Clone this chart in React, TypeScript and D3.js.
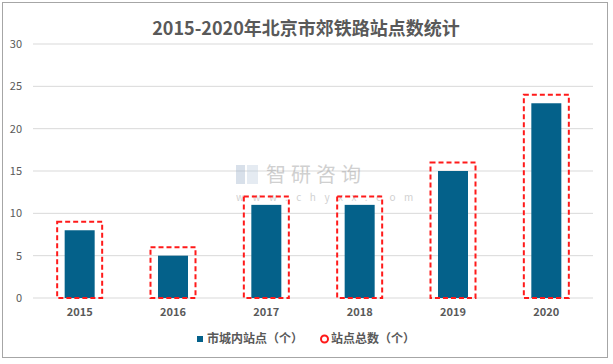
import React from 'react'
import * as d3 from 'd3'

const years = ['2015', '2016', '2017', '2018', '2019', '2020']
const inCity = [8, 5, 11, 11, 15, 23]
const totalStations = [9, 6, 12, 12, 16, 24]
const yTicks = [0, 5, 10, 15, 20, 25, 30]
const seriesNames = ['市城内站点（个）', '站点总数（个）']

const W = 613
const H = 364
const margin = { top: 44, right: 20, bottom: 66, left: 33 }
const FONT = '"Noto Sans CJK SC", "Noto Sans", sans-serif'
const GRAY = '#595959'

export default function App() {
  const x = d3.scaleBand<string>()
    .domain(years)
    .range([margin.left, W - margin.right])
  const y = d3.scaleLinear()
    .domain([0, 30])
    .range([H - margin.bottom, margin.top])

  const barW = 30
  const boxW = 45

  return (
    <div style={{ position: 'fixed', left: 0, top: 0 }}>
      <svg width={W} height={H} style={{ display: 'block', background: '#fff' }}>
        <rect x={2.5} y={2.5} width={605} height={355} fill="#fff" stroke="#a6a6a6" strokeWidth={1} />

        <text x={306} y={35} textAnchor="middle" fontFamily={FONT} fontSize={18} fontWeight="bold" fill={GRAY}>
          2015-2020年北京市郊铁路站点数统计
        </text>

        {/* gridlines + y labels */}
        {yTicks.map(t => (
          <g key={t}>
            <line x1={margin.left} x2={W - margin.right} y1={y(t)} y2={y(t)} stroke="#d9d9d9" strokeWidth={1} />
            <text x={22} y={y(t)} dy="0.35em" textAnchor="end" fontFamily={FONT} fontSize={11} fill={GRAY}>{t}</text>
          </g>
        ))}

        {/* watermark */}
        <g opacity={0.4}>
          <rect x={236} y={165} width={9} height={19} fill="#9fb3cc" />
          <rect x={247} y={165} width={11} height={19} fill="#bfcfe0" />
          <text x={266} y={182} fontFamily={FONT} fontSize={20} fill="#8c8c8c" letterSpacing={5}>智研咨询</text>
          <text x={236} y={201} fontFamily={FONT} fontSize={10} fill="#8c8c8c" letterSpacing={8.5}>www.chyxx.com</text>
        </g>

        {/* bars */}
        {years.map((yr, i) => {
          const cx = (x(yr) ?? 0) + x.bandwidth() / 2
          return (
            <g key={yr}>
              <rect x={cx - barW / 2} y={y(inCity[i])} width={barW} height={y(0) - y(inCity[i])} fill="#04618A" />
              <rect x={cx - boxW / 2} y={y(totalStations[i])} width={boxW} height={y(0) - y(totalStations[i])}
                fill="none" stroke="#ff1a1a" strokeWidth={2} strokeDasharray="5,3" />
              <text x={cx} y={316} textAnchor="middle" fontFamily={FONT} fontSize={11} fontWeight="bold" fill={GRAY}>{yr}</text>
            </g>
          )
        })}

        {/* legend */}
        <rect x={197} y={336} width={6} height={6} fill="#04618A" />
        <text x={207} y={339} dy="0.35em" fontFamily={FONT} fontSize={12} fontWeight="bold" fill={GRAY}>{seriesNames[0]}</text>
        <circle cx={324.5} cy={339} r={3.5} fill="none" stroke="#ff1a1a" strokeWidth={2} />
        <text x={331} y={339} dy="0.35em" fontFamily={FONT} fontSize={12} fontWeight="bold" fill={GRAY}>{seriesNames[1]}</text>
      </svg>
    </div>
  )
}
